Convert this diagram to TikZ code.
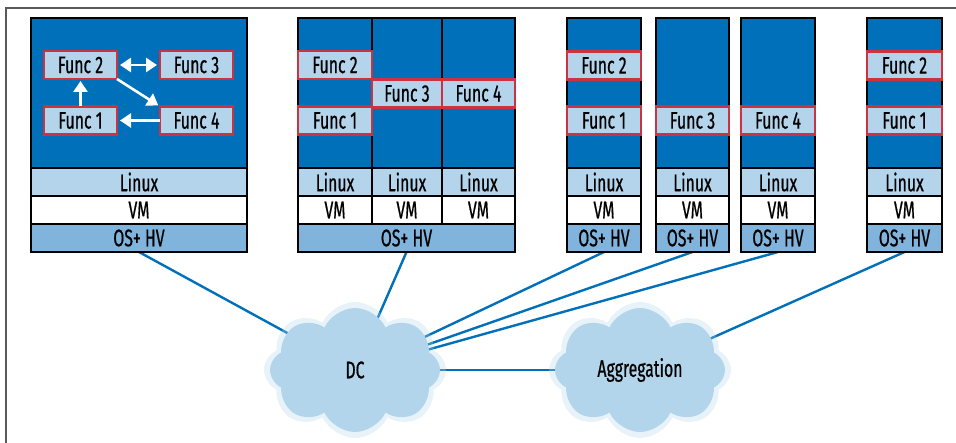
\documentclass[tikz,border=0pt]{standalone}
\usepackage{fontspec}
\setmainfont{Fira Sans}[FakeStretch=0.66,FakeBold=0.6]
\usetikzlibrary{shapes.symbols,arrows.meta}
\definecolor{dblue}{HTML}{0070BA}
\definecolor{lblue}{HTML}{B3D4EA}
\definecolor{mblue}{HTML}{80B4DC}
\definecolor{fred}{HTML}{CC3340}
\definecolor{cloudblue}{HTML}{B3D5EB}
\definecolor{framegray}{HTML}{5A5A5A}
\pgfdeclarelayer{bg}
\pgfsetlayers{bg,main}
\tikzset{
  txt/.style={font=\fontsize{24}{25}\selectfont},
  layer/.style={draw=black, line width=2.4pt, inner sep=0pt, outer sep=0pt, txt},
  cpu/.style={layer, fill=dblue, minimum height=150pt},
  linuxbox/.style={layer, fill=lblue, minimum height=28pt},
  vmbox/.style={layer, fill=white, minimum height=28pt},
  osbox/.style={layer, fill=mblue, minimum height=28pt},
  func/.style={draw=fred, line width=2.2pt, fill=lblue, minimum height=28pt,
    inner sep=0pt, outer sep=0pt, txt},
  link/.style={draw=dblue, line width=2.4pt},
  warrow/.style={draw=white, line width=2.6pt},
  tip/.tip={Triangle[width=14pt,length=11pt]},
  cloudnode/.style={cloud, cloud puffs=8, cloud puff arc=130, aspect=1.3,
    fill=cloudblue, draw=none, inner sep=0pt, txt},
}
\begin{document}
\begin{tikzpicture}[x=1pt,y=-1pt]
\useasboundingbox (0,0) rectangle (956,443);
\draw[framegray, line width=1.2pt] (956,8) -- (6,8) -- (6,443);

% ---- Box 1
\node[cpu, minimum width=216pt] (cpu1) at (139,93) {};
\node[linuxbox, minimum width=216pt] (lin1) at (139,182) {Linux};
\node[vmbox, minimum width=216pt] (vm1) at (139,210) {VM};
\node[osbox, minimum width=216pt] (os1) at (139,238) {OS+ HV};
\node[func, minimum width=73pt] (f12) at (80.5,65) {Func 2};
\node[func, minimum width=73pt] (f13) at (196.5,65) {Func 3};
\node[func, minimum width=73pt] (f11) at (80.5,120.5) {Func 1};
\node[func, minimum width=73pt] (f14) at (196.5,120.5) {Func 4};
\draw[warrow, tip-tip, shorten <=3pt, shorten >=3pt] (f12.east) -- (f13.west);
\draw[warrow, -tip, shorten >=2pt] (f11.north) -- (f12.south);
\draw[warrow, -tip, shorten >=2pt] (f12.south east) -- (f14.north west);
\draw[warrow, -tip, shorten >=3pt] (f14.west) -- (f11.east);

% ---- Box 2
\node[cpu, minimum width=74pt] (cpu2a) at (335,93) {};
\node[cpu, minimum width=70pt] (cpu2b) at (407,93) {};
\node[cpu, minimum width=73pt] (cpu2c) at (478.5,93) {};
\node[linuxbox, minimum width=74pt] (lin2a) at (335,182) {Linux};
\node[linuxbox, minimum width=70pt] (lin2b) at (407,182) {Linux};
\node[linuxbox, minimum width=73pt] (lin2c) at (478.5,182) {Linux};
\node[vmbox, minimum width=74pt] (vm2a) at (335,210) {VM};
\node[vmbox, minimum width=70pt] (vm2b) at (407,210) {VM};
\node[vmbox, minimum width=73pt] (vm2c) at (478.5,210) {VM};
\node[osbox, minimum width=217pt] (os2) at (406.5,238) {OS+ HV};
\node[func, minimum width=74pt] (f22) at (335,65) {Func 2};
\node[func, minimum width=70pt] (f23) at (407,93.5) {Func 3};
\node[func, minimum width=73pt] (f24) at (478.5,93.5) {Func 4};
\node[func, minimum width=74pt] (f21) at (335,120.5) {Func 1};

% ---- Single-function servers
\foreach \n/\cx/\w in {a/604/74, b/692.5/73, c/778/74, d/904.5/75}{
  \node[cpu, minimum width=\w pt] (cpu3\n) at (\cx,93) {};
  \node[linuxbox, minimum width=\w pt] (lin3\n) at (\cx,182) {Linux};
  \node[vmbox, minimum width=\w pt] (vm3\n) at (\cx,210) {VM};
  \node[osbox, minimum width=\w pt] (os3\n) at (\cx,238) {OS+ HV};
}
\node[func, minimum width=74pt] (f32) at (604,65.5) {Func 2};
\node[func, minimum width=74pt] (f31) at (604,120.5) {Func 1};
\node[func, minimum width=73pt] (f33) at (692.5,120.5) {Func 3};
\node[func, minimum width=74pt] (f34) at (778,120.5) {Func 4};
\node[func, minimum width=75pt] (f42) at (904.5,65.5) {Func 2};
\node[func, minimum width=75pt] (f41) at (904.5,120.5) {Func 1};

% ---- Clouds
\node[cloudnode, fill opacity=0.3, text opacity=0, minimum width=182pt, minimum height=136pt] (dch) at (355,370) {};
\node[cloudnode, fill opacity=0.3, text opacity=0, minimum width=182pt, minimum height=136pt] (aggh) at (640,370) {};
\node[cloudnode, minimum width=170pt, minimum height=124pt] (dc) at (355,370) {DC};
\node[cloudnode, minimum width=170pt, minimum height=124pt] (agg) at (640,370) {Aggregation};

\begin{pgfonlayer}{bg}
\draw[link] (os1.south) -- (dc.center);
\draw[link] (os2.south) -- (dc.center);
\draw[link] (os3a.south) -- (dc.center);
\draw[link] (os3b.south) -- (dc.center);
\draw[link] (os3c.south) -- (dc.center);
\draw[link] (os3d.south) -- (agg.center);
\draw[link] (dc.center) -- (agg.center);
\end{pgfonlayer}
\end{tikzpicture}
\end{document}
